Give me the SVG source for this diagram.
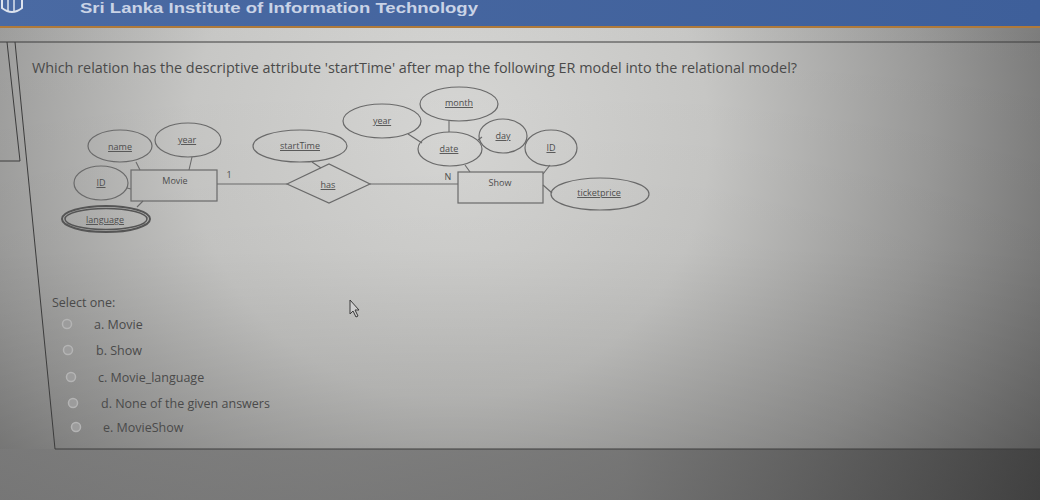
<svg xmlns="http://www.w3.org/2000/svg" width="1040" height="500" viewBox="0 0 1040 500">
<defs>
<radialGradient id="bg" cx="450" cy="140" r="740" gradientUnits="userSpaceOnUse">
<stop offset="0" stop-color="#d8d8d6"/>
<stop offset="0.35" stop-color="#c8c8c6"/>
<stop offset="0.65" stop-color="#9a9a99"/>
<stop offset="1" stop-color="#5a5a5a"/>
</radialGradient>
<linearGradient id="shade" x1="0" y1="0" x2="0" y2="1">
<stop offset="0" stop-color="#000" stop-opacity="0"/>
<stop offset="0.5" stop-color="#000" stop-opacity="0.03"/>
<stop offset="1" stop-color="#000" stop-opacity="0.18"/>
</linearGradient>
<linearGradient id="hdr" x1="0" y1="0" x2="1" y2="0">
<stop offset="0" stop-color="#4a6aa3"/>
<stop offset="1" stop-color="#3e5f9a"/>
</linearGradient>
<linearGradient id="foot" x1="0" y1="0" x2="1" y2="0">
<stop offset="0" stop-color="#7a7a7a"/>
<stop offset="0.6" stop-color="#6a6a6a"/>
<stop offset="1" stop-color="#3a3a3a"/>
</linearGradient>
<style>
.q{font-family:"Open Sans","Liberation Sans",sans-serif;fill:#4a4a4a}
.er{font-family:"Open Sans","Liberation Sans",sans-serif;font-size:9px;fill:#4d4d4d;text-anchor:middle}
.u{text-decoration:underline}
.shape{fill:none;stroke:#6a6a6a;stroke-width:1.2}
.con{stroke:#6a6a6a;stroke-width:1.1;fill:none}
.radio{fill:#9c9c9c;stroke:#b4b4b4;stroke-width:1.5}
.frame{stroke:#3c3c3c;stroke-width:1;fill:none}
</style>
</defs>
<rect x="0" y="0" width="1040" height="500" fill="url(#bg)"/>
<rect x="0" y="0" width="1040" height="500" fill="url(#shade)"/>
<rect x="0" y="449" width="1040" height="51" fill="url(#foot)" opacity="0.75"/>
<rect x="0" y="0" width="1040" height="27" fill="url(#hdr)"/>
<rect x="0" y="26" width="1040" height="2" fill="#b07a3a"/>
<path d="M2 0 L2 8 Q12 16 22 8 L22 0" fill="none" stroke="#dde3ee" stroke-width="2"/>
<path d="M8 0 V11 M14 0 V11" stroke="#dde3ee" stroke-width="1.5"/>
<text x="80" y="13" font-family="Liberation Sans, sans-serif" font-weight="bold" font-size="14" fill="#c9d3e6" textLength="398" lengthAdjust="spacingAndGlyphs">Sri Lanka Institute of Information Technology</text>
<g id="frames">
<path class="frame" d="M0 42 H1040"/>
<path class="frame" d="M7 42 L20 161 H0"/>
<path class="frame" d="M15 42 L55 449 H1040"/>
</g>
<text class="q" x="32" y="73" font-size="14" textLength="765" lengthAdjust="spacingAndGlyphs">Which relation has the descriptive attribute 'startTime' after map the following ER model into the relational model?</text>
<g id="connectors">
<line class="con" x1="136" y1="162" x2="140" y2="170"/>
<line class="con" x1="192" y1="157" x2="189" y2="170"/>
<line class="con" x1="127" y1="188" x2="131" y2="189"/>
<line class="con" x1="137" y1="207" x2="143" y2="201"/>
<line class="con" x1="217" y1="184" x2="287" y2="184"/>
<line class="con" x1="312" y1="162" x2="321" y2="168"/>
<line class="con" x1="370" y1="184" x2="458" y2="184"/>
<line class="con" x1="408" y1="134" x2="422" y2="143"/>
<line class="con" x1="449" y1="121" x2="449" y2="132"/>
<line class="con" x1="482" y1="137" x2="478" y2="140"/>
<line class="con" x1="465" y1="165" x2="470" y2="172"/>
<line class="con" x1="550" y1="165" x2="543" y2="174"/>
<line class="con" x1="543" y1="185" x2="552" y2="193"/>
<text class="er" x="229" y="178">1</text>
<text class="er" x="448" y="180">N</text>
</g>
<g id="movie"><rect class="shape" x="131" y="170" width="86" height="31"/><text class="er" x="175" y="184">Movie</text></g>
<g id="name"><ellipse class="shape" cx="120" cy="146" rx="32" ry="16"/><text class="er u" x="120" y="150">name</text></g>
<g id="year1"><ellipse class="shape" cx="188" cy="140" rx="33" ry="17"/><text class="er u" x="187" y="143">year</text></g>
<g id="id1"><ellipse class="shape" cx="101" cy="183" rx="27" ry="17"/><text class="er u" x="101" y="186">ID</text></g>
<g id="language"><ellipse cx="106" cy="219" rx="44" ry="13" fill="none" stroke="#555" stroke-width="2"/><ellipse cx="106" cy="219" rx="41" ry="10.5" fill="none" stroke="#555" stroke-width="1.5"/><text class="er u" x="105" y="223">language</text></g>
<g id="starttime"><ellipse class="shape" cx="300" cy="146" rx="47" ry="16"/><text class="er u" x="300" y="149">startTime</text></g>
<g id="has"><polygon class="shape" points="287,184 329,164 370,184 329,203"/><text class="er u" x="328" y="188">has</text></g>
<g id="show"><rect class="shape" x="458" y="172" width="85" height="31"/><text class="er" x="500" y="186">Show</text></g>
<g id="month"><ellipse class="shape" cx="459" cy="104" rx="39" ry="17"/><text class="er u" x="459" y="106">month</text></g>
<g id="year2"><ellipse class="shape" cx="382" cy="121" rx="39" ry="17"/><text class="er u" x="382" y="124">year</text></g>
<g id="date"><ellipse class="shape" cx="450" cy="149" rx="32" ry="17"/><text class="er u" x="449" y="152">date</text></g>
<g id="day"><ellipse class="shape" cx="503" cy="136" rx="24" ry="17"/><text class="er u" x="503" y="139">day</text></g>
<g id="id2"><ellipse class="shape" cx="551" cy="148" rx="26" ry="18"/><text class="er u" x="551" y="151">ID</text></g>
<g id="ticketprice"><ellipse class="shape" cx="600" cy="194" rx="49" ry="16"/><text class="er u" x="599" y="196">ticketprice</text></g>
<text class="q" x="52" y="307" font-size="12.5">Select one:</text>
<g id="options">
<circle class="radio" cx="67" cy="324" r="4.5"/><text class="q" x="94" y="329" font-size="12.5">a. Movie</text>
<circle class="radio" cx="68" cy="350" r="4.5"/><text class="q" x="96" y="355" font-size="12.5">b. Show</text>
<circle class="radio" cx="71" cy="377" r="4.5"/><text class="q" x="98" y="382" font-size="12.5">c. Movie_language</text>
<circle class="radio" cx="73" cy="403" r="4.5"/><text class="q" x="101" y="408" font-size="12.5">d. None of the given answers</text>
<circle class="radio" cx="76" cy="427" r="4.5"/><text class="q" x="103" y="432" font-size="12.5">e. MovieShow</text>
</g>
<path d="M350 300 L350 314 L353 311 L356 317 L358 316 L355 310 L359 310 Z" fill="#cfcfcf" stroke="#3a3a3a" stroke-width="1"/>
</svg>
